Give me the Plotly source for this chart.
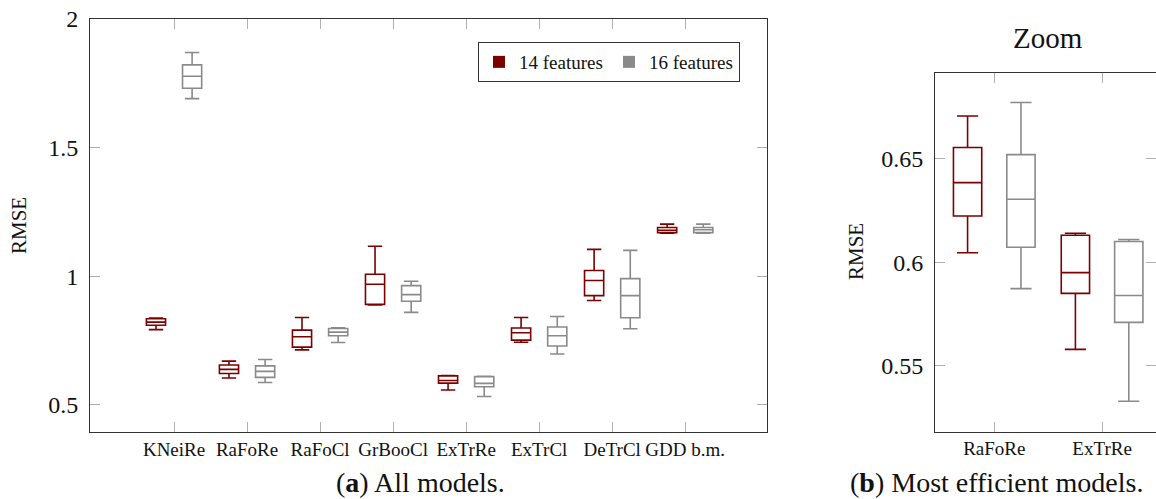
import plotly.graph_objects as go

# Models and RMSE box statistics (min, q1, median, q3, max)
models = ["KNeiRe", "RaFoRe", "RaFoCl", "GrBooCl", "ExTrRe", "ExTrCl", "DeTrCl", "GDD b.m."]

f14_min = [0.793, 0.6046, 0.714, 0.889, 0.558, 0.744, 0.906, 1.168]
f14_q1 = [0.810, 0.6223, 0.725, 0.891, 0.585, 0.752, 0.925, 1.170]
f14_med = [0.822, 0.6384, 0.765, 0.969, 0.595, 0.781, 0.984, 1.179]
f14_q3 = [0.835, 0.6553, 0.791, 1.008, 0.613, 0.799, 1.023, 1.190]
f14_max = [0.838, 0.6705, 0.840, 1.117, 0.614, 0.840, 1.105, 1.203]

f16_min = [1.691, 0.5873, 0.743, 0.860, 0.533, 0.698, 0.796, 1.168]
f16_q1 = [1.731, 0.6072, 0.769, 0.903, 0.571, 0.729, 0.839, 1.170]
f16_med = [1.778, 0.6304, 0.783, 0.929, 0.584, 0.769, 0.925, 1.181]
f16_q3 = [1.822, 0.6519, 0.797, 0.964, 0.610, 0.803, 0.991, 1.190]
f16_max = [1.870, 0.6770, 0.800, 0.981, 0.611, 0.844, 1.101, 1.203]

zoom_models = ["RaFoRe", "ExTrRe"]

y_ticks_all = [0.5, 1, 1.5, 2]
y_ticks_zoom = [0.55, 0.6, 0.65]

RED = "#7b0000"
GRAY = "#8a8a8a"
FONT = "Liberation Serif"


def pick(values, names):
    return [values[models.index(n)] for n in names]


def box(name, cats, lo, q1, med, q3, hi, color, xa, ya):
    return go.Box(
        name=name, x=cats, lowerfence=lo, q1=q1, median=med, q3=q3, upperfence=hi,
        line=dict(color=color, width=1.6), fillcolor="rgba(255,255,255,0)",
        whiskerwidth=0.75, boxpoints=False, showlegend=False,
        xaxis=xa, yaxis=ya, offsetgroup=name,
    )


series = [
    ("14 features", RED, f14_min, f14_q1, f14_med, f14_q3, f14_max),
    ("16 features", GRAY, f16_min, f16_q1, f16_med, f16_q3, f16_max),
]

fig = go.Figure()
for name, color, lo, q1, med, q3, hi in series:
    fig.add_trace(box(name, models, lo, q1, med, q3, hi, color, "x", "y"))
for name, color, lo, q1, med, q3, hi in series:
    fig.add_trace(box(name, zoom_models, pick(lo, zoom_models), pick(q1, zoom_models),
                      pick(med, zoom_models), pick(q3, zoom_models), pick(hi, zoom_models),
                      color, "x2", "y2"))

# legend entries drawn as filled squares
for name, color, *_ in series:
    fig.add_trace(go.Scatter(x=[None], y=[None], mode="markers", name=name,
                             marker=dict(symbol="square", size=12, color=color),
                             xaxis="x", yaxis="y"))

axis_common = dict(
    showline=True, linecolor="#333333", linewidth=1, mirror="ticks",
    ticks="inside", ticklen=10, tickcolor="#b0b0b0", tickwidth=1,
    showgrid=False, zeroline=False, automargin=False,
)

fig.update_layout(
    width=1156, height=499,
    margin=dict(l=0, r=0, t=0, b=0, autoexpand=False),
    paper_bgcolor="white", plot_bgcolor="white",
    font=dict(family=FONT, color="#111111"),
    boxmode="group", boxgap=0.01, boxgroupgap=0.47,
    xaxis=dict(domain=[0.0779, 0.6635], type="category", categoryarray=models,
               range=[-1.15, 8.12], tickfont=dict(size=19), anchor="y", **axis_common),
    yaxis=dict(domain=[0.1343, 0.962], range=[0.395, 2.0005], tickvals=y_ticks_all,
               ticktext=["0.5", "1", "1.5", "2"], tickfont=dict(size=24), anchor="x",
               ticklabelstandoff=6, **axis_common),
    xaxis2=dict(domain=[0.8088, 1.0], type="category", categoryarray=zoom_models,
                range=[-0.55, 1.5], tickfont=dict(size=19), anchor="y2", **axis_common),
    yaxis2=dict(domain=[0.1349, 0.8543], range=[0.5183, 0.6914], tickvals=y_ticks_zoom,
                ticktext=["0.55", "0.6", "0.65"], tickfont=dict(size=24), anchor="x2",
                ticklabelstandoff=6, **axis_common),
    legend=dict(x=0.4135, y=0.9158, xanchor="left", yanchor="top", orientation="h",
                bordercolor="#333333", borderwidth=1, bgcolor="white",
                font=dict(size=19), itemwidth=30, entrywidth=85),
    showlegend=True,
)

annotations = [
    dict(text="RMSE", x=19 / 1156, y=1 - 226 / 499, textangle=-90, font=dict(size=21)),
    dict(text="RMSE", x=856 / 1156, y=1 - 252 / 499, textangle=-90, font=dict(size=21)),
    dict(text="Zoom", x=1048 / 1156, y=1 - 38 / 499, font=dict(size=29)),
    dict(text="(<b>a</b>) All models.", x=420 / 1156, y=1 - 482 / 499, font=dict(size=28)),
    dict(text="(<b>b</b>) Most efficient models.", x=996 / 1156, y=1 - 482 / 499,
         font=dict(size=28)),
]
for a in annotations:
    fig.add_annotation(xref="paper", yref="paper", showarrow=False,
                       xanchor="center", yanchor="middle", **a)

fig.write_html("out.html")
